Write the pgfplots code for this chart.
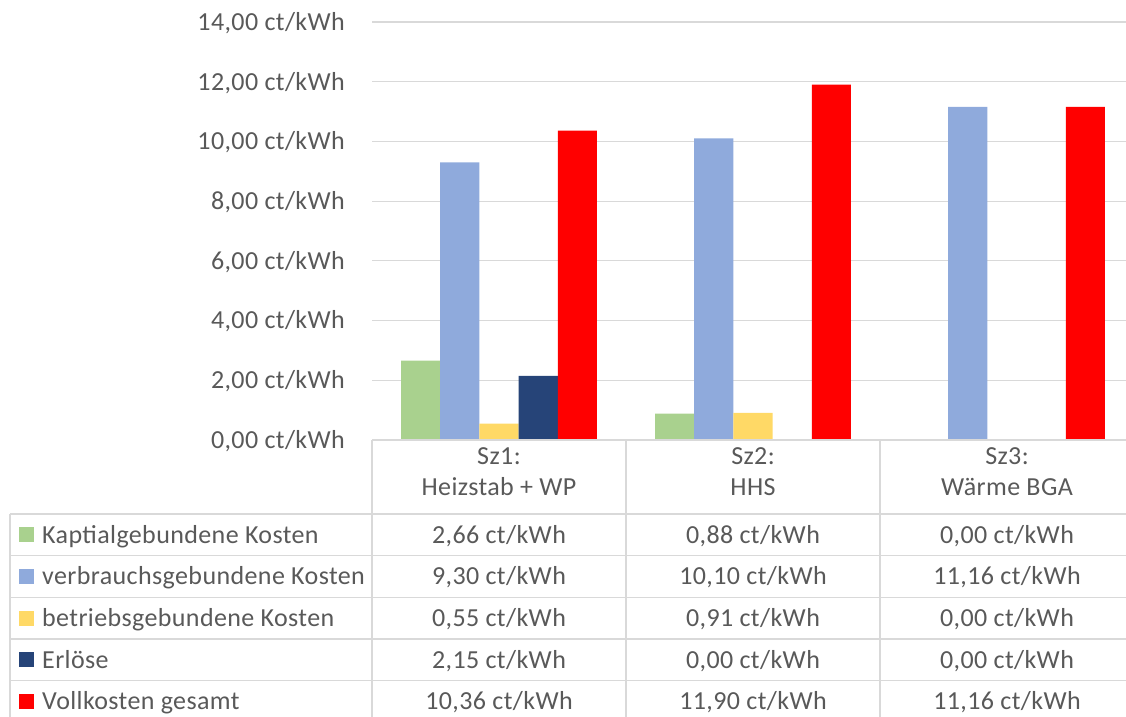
\documentclass[border=0pt]{standalone}
\usepackage{pgfplots}
\usepackage{pgfplotstable}
\pgfplotsset{compat=1.18}
\usepackage{fontspec}
\setmainfont{Carlito}[LetterSpace=1.5]

\definecolor{txt}{HTML}{595959}
\definecolor{rule}{HTML}{D9D9D9}
\definecolor{kap}{HTML}{A9D18E}
\definecolor{verb}{HTML}{8FAADC}
\definecolor{betr}{HTML}{FFD966}
\definecolor{erl}{HTML}{264478}
\definecolor{voll}{HTML}{FF0000}

\pgfkeys{/pgf/number format/.cd, fixed, fixed zerofill, precision=2, use comma, assume math mode=true}

% Kosten in ct/kWh je Szenario
\pgfplotstableread{
x   kap   verb   betr  erl   voll
0.5 2.66  9.30   0.55  2.15  10.36
1.5 0.88  10.10  0.91  0.00  11.90
2.5 0.00  11.16  0.00  0.00  11.16
}\kosten

\newcommand\lbl{\fontsize{26pt}{31pt}\selectfont}

\begin{document}
\lbl
\begin{tikzpicture}[font=\lbl]
\useasboundingbox (0pt,0pt) rectangle (1126pt,716pt);
\begin{axis}[
  at={(372pt,276pt)}, anchor=south west,
  scale only axis, width=762pt, height=418pt,
  xmin=0, xmax=3, ymin=0, ymax=14,
  ytick={0,2,4,6,8,10,12,14},
  xtick=\empty,
  ymajorgrids, grid style={rule, line width=1.2pt},
  axis line style={draw=none},
  major tick length=0pt,
  ybar=0pt, bar width=0.1543,
  clip=false,
  yticklabel={\pgfmathprintnumber{\tick}~ct/kWh},
  yticklabel style={font=\lbl, anchor=base east, inner sep=0pt, xshift=-27pt, yshift=-8.4pt, text=txt},
]
\addplot[fill=kap, draw=none] table[x=x,y=kap]{\kosten};
\addplot[fill=verb, draw=none] table[x=x,y=verb]{\kosten};
\addplot[fill=betr, draw=none] table[x=x,y=betr]{\kosten};
\addplot[fill=erl, draw=none] table[x=x,y=erl]{\kosten};
\addplot[fill=voll, draw=none] table[x=x,y=voll]{\kosten};
\end{axis}

% Datentabelle unter dem Diagramm
\begin{scope}[rule, line width=1.2pt]
  \draw (372pt,276pt) -- (1134pt,276pt);
  \foreach \y in {202,160.3,118.7,77,35.3}
    \draw (10pt,\y pt) -- (1134pt,\y pt);
  \foreach \x in {372,626,880,1134}
    \draw (\x pt,276pt) -- (\x pt,-10pt);
  \draw (10pt,202pt) -- (10pt,-10pt);
\end{scope}

\foreach \xc/\a/\b in {499/Sz1:/Heizstab + WP, 753/Sz2:/HHS, 1007/Sz3:/Wärme BGA} {
  \node[anchor=base, text=txt] at (\xc pt,251.7pt) {\a};
  \node[anchor=base, text=txt] at (\xc pt,221pt) {\b};
}

\foreach \c/\yb/\lab in {kap/172.8/Kaptialgebundene Kosten, verb/131.1/verbrauchsgebundene Kosten, betr/89.4/betriebsgebundene Kosten, erl/47.8/Erlöse, voll/6.1/Vollkosten gesamt} {
  \fill[\c] (19pt,\yb pt+0.9pt) rectangle ++(15pt,15pt);
  \node[anchor=base west, inner sep=0pt, text=txt] at (42pt,\yb pt) {\lab};
  \foreach \r/\xc in {0/499,1/753,2/1007} {
    \pgfplotstablegetelem{\r}{\c}\of\kosten
    \node[anchor=base, text=txt] at (\xc pt,\yb pt) {\pgfmathprintnumber{\pgfplotsretval}~ct/kWh};
  }
}
\end{tikzpicture}
\end{document}
